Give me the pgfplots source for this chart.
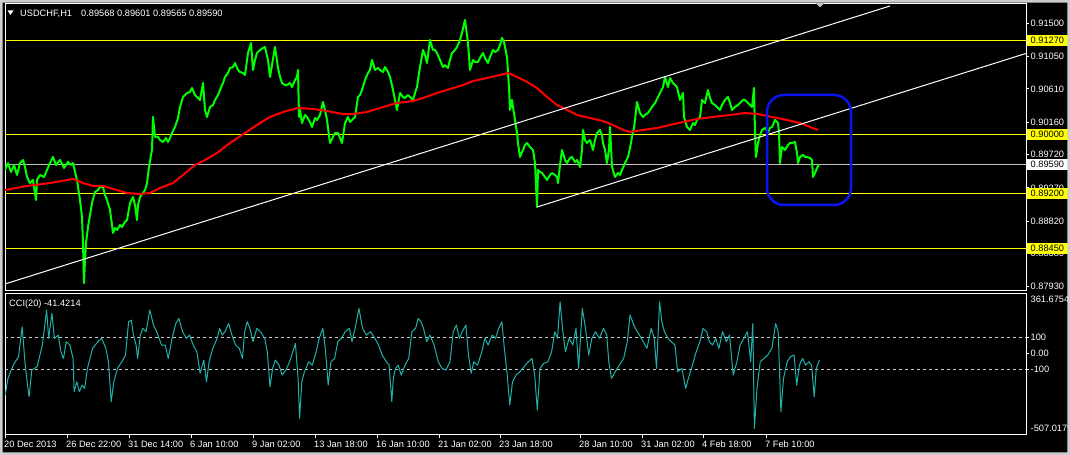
\documentclass[border=0pt]{standalone}
\usepackage{fontspec}
\setmainfont{Liberation Sans}
\usepackage{pgfplots}
\pgfplotsset{compat=1.18}
\definecolor{mtlime}{RGB}{0,255,0}
\definecolor{ccicol}{RGB}{32,178,170}
\definecolor{mtred}{RGB}{255,0,0}
\definecolor{mtyellow}{RGB}{255,255,0}
\definecolor{mtgray}{RGB}{192,192,192}
\definecolor{framegray}{RGB}{205,205,205}
\definecolor{mtblue}{RGB}{10,20,240}
\begin{document}
\begin{tikzpicture}[x=1bp,y=1bp,
  lbl/.style={font=\fontsize{9.25bp}{11bp}\selectfont, text=white, inner sep=0pt},
  hbox/.style={font=\fontsize{9.25bp}{11bp}\selectfont, text=black, inner xsep=3.5bp, inner ysep=0pt, minimum height=11bp, anchor=west}]
\useasboundingbox (0,0) rectangle (1070,455);
\fill[black] (0,0) rectangle (1070,455);

% ---------------- main price panel ----------------
\begin{axis}[
  at={(5bp,164bp)}, anchor=south west, scale only axis,
  width=1021bp, height=287bp,
  xmin=5, xmax=1026, ymin=0.87873, ymax=0.91762,
  axis line style={white, line width=1bp},
  xtick=\empty,
  ytick={0.915,0.9105,0.9061,0.9016,0.8972,0.8927,0.8882,0.8838,0.8793},
  yticklabel=\empty, ytick pos=right, tick align=outside,
  major tick length=3bp, tick style={white, line width=1bp},
  clip mode=individual,
]
% horizontal levels
\addplot[mtyellow, line width=1bp] coordinates {(5,0.9127) (1026,0.9127)};
\addplot[mtyellow, line width=1bp] coordinates {(5,0.9000) (1026,0.9000)};
\addplot[mtyellow, line width=1bp] coordinates {(5,0.8920) (1026,0.8920)};
\addplot[mtyellow, line width=1bp] coordinates {(5,0.8845) (1026,0.8845)};
\addplot[mtgray, line width=1bp] coordinates {(5,0.8959) (1026,0.8959)};
% price (close line)
\addplot[mtlime, line width=2bp, line join=round] coordinates {
(5,0.89513) (8,0.89607) (11,0.89486) (14,0.89580) (17,0.89445) (20,0.89607) (23,0.89648) (25,0.89553)
(27,0.89418) (30,0.89336) (33,0.89377) (36,0.89106) (37,0.89377) (40,0.89445) (44,0.89418) (47,0.89513)
(50,0.89607) (53,0.89689) (56,0.89580) (60,0.89648) (64,0.89540) (68,0.89621) (71,0.89580) (73,0.89607)
(75,0.89486) (77,0.89377) (80,0.89106) (82,0.88876) (83,0.88523) (84,0.87981) (85,0.88293) (86,0.88523)
(88,0.88740) (90,0.88903) (92,0.89065) (95,0.89214) (98,0.89241) (100,0.89282) (103,0.89282) (105,0.89174)
(107,0.89106) (110,0.88971) (112,0.88767) (113,0.88659) (115,0.88727) (117,0.88700) (120,0.88767) (122,0.88740)
(125,0.88808) (127,0.88835) (130,0.89065) (133,0.89147) (135,0.89038) (137,0.88835) (138,0.89038) (140,0.89147)
(143,0.89201) (145,0.89241) (147,0.89336) (149,0.89553) (151,0.89716) (152,0.89784) (153,0.90231) (155,0.89960)
(158,0.89960) (160,0.89919) (163,0.89892) (166,0.89946) (168,0.89892) (170,0.89946) (172,0.90014) (175,0.90095)
(178,0.90217) (180,0.90366) (183,0.90502) (187,0.90556) (190,0.90570) (192,0.90624) (195,0.90529) (197,0.90502)
(200,0.90461) (203,0.90691) (205,0.90326) (207,0.90231) (210,0.90366) (213,0.90393) (215,0.90461) (218,0.90529)
(220,0.90597) (223,0.90691) (225,0.90773) (228,0.90827) (230,0.90895) (233,0.90908) (235,0.90962) (238,0.90868)
(240,0.90840) (243,0.90827) (245,0.90800) (248,0.91098) (251,0.91233) (253,0.90868) (255,0.91003) (257,0.91098)
(260,0.91139) (263,0.91166) (265,0.91179) (268,0.91003) (270,0.90773) (272,0.90935) (275,0.91179) (278,0.90895)
(280,0.90773) (282,0.90691) (285,0.90664) (287,0.90664) (290,0.90691) (292,0.90637) (295,0.90732) (297,0.90773)
(298,0.90868) (299,0.90231) (300,0.90326) (302,0.90149) (305,0.90258) (307,0.90231) (310,0.90163) (312,0.90095)
(315,0.90217) (317,0.90190) (320,0.90258) (323,0.90434) (325,0.90326) (327,0.90190) (330,0.89878) (333,0.89960)
(335,0.90014) (338,0.90014) (340,0.89946) (342,0.89878) (345,0.90149) (348,0.90231) (350,0.90163) (352,0.90190)
(355,0.90231) (358,0.90502) (360,0.90529) (362,0.90597) (365,0.90732) (368,0.90827) (370,0.90868) (372,0.91003)
(375,0.90868) (378,0.90895) (380,0.90868) (383,0.90840) (385,0.90908) (388,0.90840) (390,0.90773) (393,0.90597)
(395,0.90461) (397,0.90326) (400,0.90556) (403,0.90502) (405,0.90488) (408,0.90529) (410,0.90502) (413,0.90461)
(415,0.90556) (417,0.90637) (418,0.90732) (420,0.90908) (423,0.91139) (425,0.91071) (427,0.90962) (430,0.91274)
(433,0.91139) (435,0.91139) (437,0.91098) (440,0.91003) (443,0.90908) (445,0.90935) (448,0.90895) (450,0.91003)
(452,0.91098) (455,0.91139) (457,0.91179) (460,0.91274) (462,0.91369) (465,0.91545) (467,0.91342) (468,0.91233)
(470,0.90868) (473,0.91003) (475,0.90976) (478,0.90976) (480,0.91030) (483,0.91098) (485,0.91030) (488,0.90962)
(490,0.91044) (493,0.91139) (495,0.91111) (498,0.91139) (500,0.91206) (502,0.91301) (504,0.91247) (505,0.91179)
(507,0.91044) (509,0.90637) (510,0.90326) (512,0.90461) (513,0.90366) (515,0.90190) (517,0.90014) (518,0.89878)
(520,0.89689) (522,0.89756) (523,0.89784) (525,0.89851) (527,0.89878) (530,0.89824) (533,0.89784) (535,0.89607)
(537,0.89011) (538,0.89513) (540,0.89486) (542,0.89472) (545,0.89418) (547,0.89377) (550,0.89445) (552,0.89472)
(555,0.89445) (557,0.89418) (558,0.89336) (560,0.89580) (562,0.89784) (565,0.89648) (567,0.89607) (570,0.89675)
(572,0.89689) (575,0.89621) (577,0.89648) (580,0.89553) (582,0.89784) (583,0.90055) (585,0.89919) (587,0.89878)
(590,0.89919) (593,0.89784) (595,0.89919) (597,0.90014) (600,0.90055) (602,0.89987) (603,0.89878) (605,0.89784)
(607,0.89607) (609,0.89784) (610,0.90095) (612,0.89553) (615,0.89418) (618,0.89472) (620,0.89445) (622,0.89513)
(625,0.89607) (628,0.89689) (630,0.89811) (632,0.89960) (634,0.90082) (635,0.90190) (637,0.90434) (640,0.90285)
(643,0.90231) (645,0.90258) (648,0.90285) (650,0.90326) (652,0.90366) (655,0.90420) (658,0.90502) (660,0.90556)
(663,0.90637) (665,0.90773) (668,0.90637) (670,0.90759) (673,0.90691) (675,0.90664) (677,0.90637) (680,0.90461)
(683,0.90556) (684,0.90231) (687,0.90095) (690,0.90055) (693,0.90149) (695,0.90122) (697,0.90190) (700,0.90231)
(702,0.90461) (705,0.90420) (708,0.90597) (710,0.90488) (712,0.90420) (715,0.90393) (717,0.90366) (720,0.90326)
(722,0.90393) (725,0.90461) (728,0.90502) (730,0.90420) (732,0.90326) (735,0.90366) (738,0.90393) (740,0.90420)
(743,0.90461) (745,0.90461) (748,0.90420) (750,0.90393) (752,0.90366) (754,0.90624) (755,0.90014) (756,0.89689)
(758,0.89878) (760,0.89987) (762,0.90055) (765,0.90082) (768,0.90027) (770,0.90082) (772,0.90095) (775,0.90190)
(777,0.90163) (778,0.90149) (779,0.90014) (780,0.89607) (782,0.89824) (785,0.89784) (788,0.89851) (790,0.89878)
(792,0.89878) (795,0.89892) (797,0.89743) (798,0.89607) (800,0.89689) (803,0.89716) (805,0.89689) (807,0.89689)
(810,0.89675) (812,0.89648) (813,0.89418) (815,0.89472) (817,0.89540) (819,0.89590)
};
% moving average
\addplot[mtred, line width=2bp, line join=round] coordinates {
(5,0.89241) (27,0.89296) (50,0.89336) (73,0.89391) (83,0.89336) (93,0.89296) (103,0.89296) (117,0.89241)
(127,0.89201) (140,0.89187) (150,0.89201) (160,0.89269) (173,0.89336) (183,0.89445) (195,0.89580) (205,0.89648)
(217,0.89743) (230,0.89878) (245,0.90014) (260,0.90149) (270,0.90231) (283,0.90298) (298,0.90353) (313,0.90339)
(327,0.90312) (343,0.90271) (353,0.90271) (367,0.90298) (383,0.90366) (397,0.90420) (413,0.90448) (423,0.90488)
(437,0.90556) (450,0.90610) (463,0.90664) (473,0.90718) (487,0.90759) (500,0.90800) (508,0.90827) (517,0.90773)
(527,0.90705) (537,0.90624) (547,0.90502) (557,0.90393) (567,0.90326) (577,0.90258) (590,0.90217) (603,0.90176)
(613,0.90122) (623,0.90055) (630,0.90027) (643,0.90055) (657,0.90082) (670,0.90122) (683,0.90163) (697,0.90204)
(713,0.90231) (730,0.90258) (745,0.90285) (758,0.90271) (772,0.90231) (787,0.90190) (800,0.90149) (810,0.90095)
(818,0.90055)
};
% trend lines
\addplot[white, line width=1bp] coordinates {(5,0.87968) (890,0.91735)};
\addplot[white, line width=1bp] coordinates {(537,0.89011) (1026,0.91092)};
% right scale labels
\node[lbl, anchor=west] at (axis cs:1030.5,0.9150) {0.91500};
\node[lbl, anchor=west] at (axis cs:1030.5,0.9105) {0.91050};
\node[lbl, anchor=west] at (axis cs:1030.5,0.9061) {0.90610};
\node[lbl, anchor=west] at (axis cs:1030.5,0.9016) {0.90160};
\node[lbl, anchor=west] at (axis cs:1030.5,0.8972) {0.89720};
\node[lbl, anchor=west] at (axis cs:1030.5,0.8927) {0.89270};
\node[lbl, anchor=west] at (axis cs:1030.5,0.8882) {0.88820};
\node[lbl, anchor=west] at (axis cs:1030.5,0.8838) {0.88380};
\node[lbl, anchor=west] at (axis cs:1030.5,0.8793) {0.87930};
% level boxes
\node[hbox, fill=mtyellow] at (axis cs:1027,0.9127) {0.91270};
\node[hbox, fill=mtyellow] at (axis cs:1027,0.9000) {0.90000};
\node[hbox, fill=white] at (axis cs:1027,0.8959) {0.89590};
\node[hbox, fill=mtyellow] at (axis cs:1027,0.8920) {0.89200};
\node[hbox, fill=mtyellow] at (axis cs:1027,0.8845) {0.88450};
\end{axis}

% ---------------- CCI panel ----------------
\begin{axis}[
  at={(5bp,20bp)}, anchor=south west, scale only axis,
  width=1021bp, height=141bp,
  xmin=5, xmax=1026, ymin=-516, ymax=374,
  axis line style={white, line width=1bp},
  xtick={5,67,129,191,253,315,377,439,500,580,642,703,766},
  xticklabel=\empty, xtick pos=bottom,
  ytick={100,0,-100}, yticklabel=\empty, ytick pos=right,
  tick align=outside, major tick length=3bp, tick style={white, line width=1bp},
  clip mode=individual,
]
\addplot[white!80!black, line width=0.8bp, dash pattern=on 3bp off 3bp] coordinates {(5,100) (1026,100)};
\addplot[white!80!black, line width=0.8bp, dash pattern=on 3bp off 3bp] coordinates {(5,-100) (1026,-100)};
\addplot[ccicol, line width=1bp, line join=round] coordinates {
(5.3,-264) (7.9,-159) (13.2,-75) (18.5,-22) (22.2,167) (24.9,-54) (27.5,-201) (29.1,-275)
(31.8,-106) (37.1,-85) (42.4,52) (46.6,273) (48.7,94) (51.9,252) (54.5,94) (58.2,115)
(60.9,9) (63.5,-33) (66.2,73) (69.9,52) (73.1,-33) (74.1,-243) (76.8,-180) (79.4,-243)
(82.1,-201) (84.7,-222) (87.4,-96) (92.6,31) (97.9,73) (101.6,94) (105.9,31) (108.5,-54)
(111.2,-306) (113.8,-180) (117.5,-96) (121.8,-54) (125.5,-12) (128.6,199) (131.3,209) (133.4,115)
(136.1,52) (137.6,-33) (140.3,115) (142.9,157) (146.1,136) (149.8,273) (153.5,178) (156.7,136)
(161.5,52) (165.2,52) (168.3,-33) (172.1,94) (175.8,188) (178.9,220) (182.6,136) (186.3,94)
(189.5,115) (193.2,52) (196.9,9) (200.1,-127) (203.8,-43) (206.5,-180) (209.1,-54) (212.8,31)
(217.1,94) (219.7,157) (222.3,115) (225.0,136) (228.7,188) (231.9,115) (235.6,52) (239.3,31)
(242.5,-33) (244.6,136) (247.2,199) (249.9,157) (253.1,73) (256.8,157) (260.5,136) (264.7,94)
(267.3,9) (270.0,-212) (272.6,-96) (275.3,-43) (279.0,-75) (282.2,-138) (285.9,-106) (289.6,-54)
(292.8,9) (295.4,62) (298.1,-159) (299.6,-412) (301.8,-180) (304.4,-117) (308.6,-54) (312.3,-75)
(316.1,9) (319.2,94) (322.9,157) (325.6,9) (328.2,-201) (330.9,-54) (334.6,-33) (337.8,73)
(341.5,94) (345.2,136) (349.4,157) (352.0,73) (355.8,178) (358.9,283) (362.6,157) (366.3,115)
(370.6,136) (374.8,94) (378.5,52) (382.2,-12) (386.5,-54) (389.1,-75) (391.8,-306) (393.3,-159)
(395.5,-96) (398.1,-75) (401.3,-138) (405.0,-75) (408.7,-33) (411.9,136) (415.6,157) (418.2,220)
(420.9,199) (423.5,157) (426.7,73) (429.9,115) (434.1,52) (438.3,-54) (442.0,-96) (445.8,-106)
(450.0,-54) (453.2,136) (456.3,178) (459.5,94) (462.2,136) (465.9,178) (468.5,-12) (471.2,-127)
(473.8,-54) (477.5,-75) (481.8,9) (484.9,94) (488.1,52) (492.3,115) (495.5,94) (498.7,157)
(501.9,199) (504.0,52) (507.2,-138) (509.8,-327) (512.5,-180) (516.2,-138) (519.9,-117) (524.1,-85)
(528.3,-54) (532.0,-33) (534.7,-138) (537.3,-359) (540.0,-96) (543.7,-64) (547.9,-54) (551.6,9)
(554.8,136) (557.5,94) (560.1,325) (562.8,136) (565.4,9) (569.1,94) (572.8,52) (576.0,157)
(578.6,-96) (582.3,283) (585.5,157) (588.7,-12) (591.9,94) (595.6,136) (599.3,94) (603.5,157)
(606.7,115) (608.8,-54) (611.5,-159) (615.2,-117) (619.4,-75) (623.6,-33) (627.3,73) (630.0,241)
(632.6,199) (635.3,157) (639.5,115) (643.2,73) (646.9,31) (651.2,157) (654.3,94) (656.5,-96)
(659.6,325) (661.8,199) (664.4,136) (668.1,94) (671.3,73) (675.0,52) (677.6,-117) (681.9,-96)
(685.6,-222) (689.3,-138) (692.4,-75) (696.2,9) (699.9,73) (703.0,157) (706.7,136) (709.4,73)
(712.6,52) (715.7,94) (718.9,31) (722.6,136) (726.3,73) (729.5,115) (733.2,-138) (736.9,-54)
(740.1,52) (743.8,94) (747.5,136) (750.7,-54) (752.8,188) (754.4,-475) (757.0,-222) (760.2,-54)
(763.9,-33) (767.6,-12) (771.9,31) (775.6,188) (778.2,136) (780.9,-370) (783.5,-159) (787.2,-54)
(790.4,-22) (794.1,-12) (796.7,-201) (799.4,-75) (802.6,-33) (805.7,-75) (808.9,-54) (811.6,-75)
(814.2,-275) (816.3,-96) (819.5,-41.4214)
};
% right scale labels
\node[lbl, anchor=west] at (axis cs:1030.5,339) {361.6754};
\node[lbl, anchor=west] at (axis cs:1030.5,100) {100};
\node[lbl, anchor=west] at (axis cs:1030.5,0) {0.00};
\node[lbl, anchor=west] at (axis cs:1030.5,-100) {-100};
\node[lbl, anchor=west] at (axis cs:1030.5,-474) {-507.0179};
% time labels
\node[lbl, anchor=base west, yshift=-12.3bp] at (axis cs:4,-516) {20 Dec 2013};
\node[lbl, anchor=base west, yshift=-12.3bp] at (axis cs:66,-516) {26 Dec 22:00};
\node[lbl, anchor=base west, yshift=-12.3bp] at (axis cs:128,-516) {31 Dec 14:00};
\node[lbl, anchor=base west, yshift=-12.3bp] at (axis cs:190,-516) {6 Jan 10:00};
\node[lbl, anchor=base west, yshift=-12.3bp] at (axis cs:252,-516) {9 Jan 02:00};
\node[lbl, anchor=base west, yshift=-12.3bp] at (axis cs:314,-516) {13 Jan 18:00};
\node[lbl, anchor=base west, yshift=-12.3bp] at (axis cs:376,-516) {16 Jan 10:00};
\node[lbl, anchor=base west, yshift=-12.3bp] at (axis cs:438,-516) {21 Jan 02:00};
\node[lbl, anchor=base west, yshift=-12.3bp] at (axis cs:499,-516) {23 Jan 18:00};
\node[lbl, anchor=base west, yshift=-12.3bp] at (axis cs:579,-516) {28 Jan 10:00};
\node[lbl, anchor=base west, yshift=-12.3bp] at (axis cs:641,-516) {31 Jan 02:00};
\node[lbl, anchor=base west, yshift=-12.3bp] at (axis cs:702,-516) {4 Feb 18:00};
\node[lbl, anchor=base west, yshift=-12.3bp] at (axis cs:765,-516) {7 Feb 10:00};
\end{axis}

% annotations
\draw[mtblue, line width=2.5bp, rounded corners=17bp] (767,250) rectangle (851,360);
\fill[white] (7.5,444.5) -- (13.5,444.5) -- (10.5,440) -- cycle;
\node[lbl, anchor=base west] at (20,438.7) {USDCHF,H1};
\node[lbl, anchor=base west] at (81,438.7) {0.89568 0.89601 0.89565 0.89590};
\node[lbl, anchor=base west] at (9,148.7) {CCI(20) -41.4214};
\fill[mtgray] (815.5,452) -- (824.5,452) -- (820,447.5) -- cycle;
% window frame
\fill[framegray, even odd rule] (0,0) rectangle (1070,455) (2.7,2.7) rectangle (1067.3,452.3);
\end{tikzpicture}
\end{document}
